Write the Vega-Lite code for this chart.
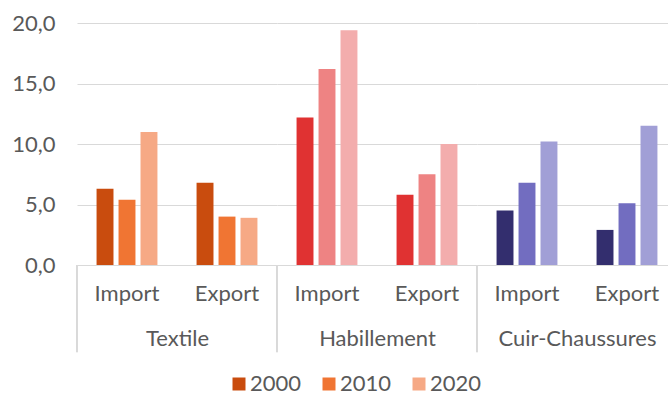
{
  "$schema": "https://vega.github.io/schema/vega-lite/v6.json",
  "padding": {"left": 11, "top": 12, "right": 0, "bottom": 0},
  "spacing": 0,
  "bounds": "flush",
  "config": {
    "font": "Lato",
    "view": {"stroke": null},
    "axis": {"labelFont": "Lato", "titleFont": "Lato", "labelColor": "#595959", "titleColor": "#595959", "titleFontWeight": "normal", "labelFontSize": 22, "titleFontSize": 22, "gridColor": "#d9d9d9", "gridWidth": 1},
    "legend": {"labelFont": "Lato", "labelFontSize": 22, "labelColor": "#595959"}
  },
  "data": {"values": [
    {"cat": "Textile", "type": "Import", "year": "2000", "value": 6.3},
    {"cat": "Textile", "type": "Import", "year": "2010", "value": 5.4},
    {"cat": "Textile", "type": "Import", "year": "2020", "value": 11.0},
    {"cat": "Textile", "type": "Export", "year": "2000", "value": 6.8},
    {"cat": "Textile", "type": "Export", "year": "2010", "value": 4.0},
    {"cat": "Textile", "type": "Export", "year": "2020", "value": 3.9},
    {"cat": "Habillement", "type": "Import", "year": "2000", "value": 12.2},
    {"cat": "Habillement", "type": "Import", "year": "2010", "value": 16.2},
    {"cat": "Habillement", "type": "Import", "year": "2020", "value": 19.4},
    {"cat": "Habillement", "type": "Export", "year": "2000", "value": 5.8},
    {"cat": "Habillement", "type": "Export", "year": "2010", "value": 7.5},
    {"cat": "Habillement", "type": "Export", "year": "2020", "value": 10.0},
    {"cat": "Cuir-Chaussures", "type": "Import", "year": "2000", "value": 4.5},
    {"cat": "Cuir-Chaussures", "type": "Import", "year": "2010", "value": 6.8},
    {"cat": "Cuir-Chaussures", "type": "Import", "year": "2020", "value": 10.2},
    {"cat": "Cuir-Chaussures", "type": "Export", "year": "2000", "value": 2.9},
    {"cat": "Cuir-Chaussures", "type": "Export", "year": "2010", "value": 5.1},
    {"cat": "Cuir-Chaussures", "type": "Export", "year": "2020", "value": 11.5}
  ]},
  "hconcat": [
    {
      "width": 200, "height": 242,
      "transform": [{"filter": "datum.cat === 'Textile'"}],
      "layer": [
        {"mark": {"type": "bar"},
         "encoding": {
           "x": {"field": "type", "type": "nominal", "sort": ["Import", "Export"], "scale": {"paddingInner": 0, "paddingOuter": 0},
                 "axis": {"title": "Textile", "labelAngle": 0, "ticks": false, "domain": false, "labelPadding": 18, "titlePadding": 24}},
           "xOffset": {"field": "year", "type": "nominal", "scale": {"paddingInner": 0.23, "paddingOuter": 0.89}},
           "y": {"field": "value", "type": "quantitative", "scale": {"domain": [0, 20]},
                 "axis": {"title": null, "ticks": false, "domain": false, "labelPadding": 22, "values": [0, 5, 10, 15, 20], "labelExpr": "replace(format(datum.value, '.1f'), '.', ',')"}},
           "color": {"field": "year", "type": "nominal", "scale": {"range": ["#C94C0E", "#F07533", "#F6A985"]},
                     "legend": {"title": null, "orient": "none", "direction": "horizontal", "legendX": 151, "legendY": 350, "symbolType": "square", "symbolSize": 169, "symbolStrokeWidth": 0, "labelOffset": 0, "columnPadding": 16, "padding": 0}}
         }},
        {"mark": {"type": "rule", "color": "#d9d9d9"},
         "encoding": {"x": {"datum": "Import", "bandPosition": 0}, "y": {"datum": -7.2}, "y2": {"datum": 0}}}
      ]
    },
    {
      "width": 200, "height": 242,
      "transform": [{"filter": "datum.cat === 'Habillement'"}],
      "layer": [
        {"mark": {"type": "bar"},
         "encoding": {
           "x": {"field": "type", "type": "nominal", "sort": ["Import", "Export"], "scale": {"paddingInner": 0, "paddingOuter": 0},
                 "axis": {"title": "Habillement", "labelAngle": 0, "ticks": false, "domain": false, "labelPadding": 18, "titlePadding": 24}},
           "xOffset": {"field": "year", "type": "nominal", "scale": {"paddingInner": 0.23, "paddingOuter": 0.89}},
           "y": {"field": "value", "type": "quantitative", "scale": {"domain": [0, 20]},
                 "axis": {"title": null, "labels": false, "ticks": false, "domain": false, "values": [0, 5, 10, 15, 20]}},
           "color": {"field": "year", "type": "nominal", "scale": {"range": ["#E03232", "#EE8383", "#F3ADAD"]}, "legend": null}
         }},
        {"mark": {"type": "rule", "color": "#d9d9d9"},
         "encoding": {"x": {"datum": "Import", "bandPosition": 0}, "y": {"datum": -7.2}, "y2": {"datum": 0}}}
      ]
    },
    {
      "width": 189, "height": 242,
      "transform": [{"filter": "datum.cat === 'Cuir-Chaussures'"}],
      "layer": [
        {"mark": {"type": "bar"},
         "encoding": {
           "x": {"field": "type", "type": "nominal", "sort": ["Import", "Export"], "scale": {"paddingInner": 0, "paddingOuter": 0, "range": [0, 200]},
                 "axis": {"title": "Cuir-Chaussures", "labelAngle": 0, "ticks": false, "domain": false, "labelPadding": 18, "titlePadding": 24}},
           "xOffset": {"field": "year", "type": "nominal", "scale": {"paddingInner": 0.23, "paddingOuter": 0.89}},
           "y": {"field": "value", "type": "quantitative", "scale": {"domain": [0, 20]},
                 "axis": {"title": null, "labels": false, "ticks": false, "domain": false, "values": [0, 5, 10, 15, 20]}},
           "color": {"field": "year", "type": "nominal", "scale": {"range": ["#332E6E", "#726DC0", "#A19FD6"]}, "legend": null}
         }},
        {"mark": {"type": "rule", "color": "#d9d9d9"},
         "encoding": {"x": {"datum": "Import", "bandPosition": 0}, "y": {"datum": -7.2}, "y2": {"datum": 0}}}
      ]
    }
  ],
  "resolve": {"scale": {"color": "independent", "x": "independent", "xOffset": "independent"}, "legend": {"color": "independent"}}
}
